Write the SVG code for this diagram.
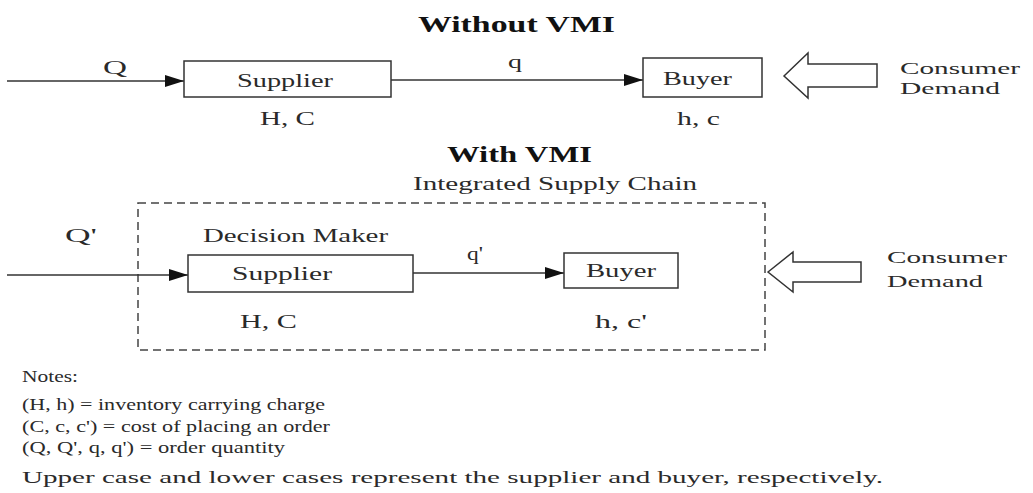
<svg xmlns="http://www.w3.org/2000/svg" width="1033" height="493" viewBox="0 0 1033 493">
<style>
text{font-family:"Liberation Serif","Times New Roman",serif;fill:#2a2a2a;font-size:19px}
.title{font-weight:bold;font-size:23px;fill:#111}
.box{fill:#fff;stroke:#333;stroke-width:1.5}
.ln{stroke:#333;stroke-width:1.5;fill:none}
.hollow{fill:#fff;stroke:#333;stroke-width:1.5}
.note{font-size:17px}
.cd{font-size:17px}
</style>
<defs>
<marker id="ah" markerUnits="userSpaceOnUse" markerWidth="20" markerHeight="12" refX="19" refY="6" orient="auto">
<path d="M0,0 L19,6 L0,12 z" fill="#111"/>
</marker>
</defs>
<rect width="1033" height="493" fill="#fff"/>
<text class="title" x="418" y="32" textLength="197" lengthAdjust="spacingAndGlyphs">Without VMI</text>
<text class="title" x="447" y="162" textLength="145" lengthAdjust="spacingAndGlyphs">With VMI</text>
<text x="413" y="190" textLength="284" lengthAdjust="spacingAndGlyphs">Integrated Supply Chain</text>
<rect id="isc" x="138" y="203" width="627" height="147" fill="none" stroke="#444" stroke-width="1.5" stroke-dasharray="8,5"/>
<g id="connectors">
<line class="ln" x1="7" y1="81" x2="184" y2="81" marker-end="url(#ah)"/>
<line class="ln" x1="391" y1="80" x2="643" y2="80" marker-end="url(#ah)"/>
<line class="ln" x1="7" y1="275" x2="188" y2="275" marker-end="url(#ah)"/>
<line class="ln" x1="413" y1="273" x2="564" y2="273" marker-end="url(#ah)"/>
<text x="103" y="74" textLength="24" lengthAdjust="spacingAndGlyphs">Q</text>
<text x="508" y="68" textLength="14" lengthAdjust="spacingAndGlyphs">q</text>
<text x="65" y="242" textLength="32" lengthAdjust="spacingAndGlyphs">Q'</text>
<text x="467" y="260" textLength="16" lengthAdjust="spacingAndGlyphs">q'</text>
</g>
<g id="supplier1">
<rect class="box" x="184" y="61" width="207" height="36"/>
<text x="237" y="87" textLength="96" lengthAdjust="spacingAndGlyphs">Supplier</text>
<text x="260" y="125" textLength="55" lengthAdjust="spacingAndGlyphs">H, C</text>
</g>
<g id="buyer1">
<rect class="box" x="643" y="58" width="119" height="39"/>
<text x="663" y="85" textLength="69" lengthAdjust="spacingAndGlyphs">Buyer</text>
<text x="677" y="125" textLength="43" lengthAdjust="spacingAndGlyphs">h, c</text>
</g>
<g id="demand1">
<path class="hollow" d="M784,76 L808,53 L808,64 L877,64 L877,87 L808,87 L808,98 Z"/>
<text class="cd" x="900" y="74" textLength="120" lengthAdjust="spacingAndGlyphs">Consumer</text>
<text class="cd" x="900" y="94" textLength="100" lengthAdjust="spacingAndGlyphs">Demand</text>
</g>
<g id="supplier2">
<text x="203" y="242" textLength="185" lengthAdjust="spacingAndGlyphs">Decision Maker</text>
<rect class="box" x="188" y="255" width="225" height="37"/>
<text x="232" y="280" textLength="100" lengthAdjust="spacingAndGlyphs">Supplier</text>
<text x="240" y="328" textLength="57" lengthAdjust="spacingAndGlyphs">H, C</text>
</g>
<g id="buyer2">
<rect class="box" x="564" y="253" width="114" height="35"/>
<text x="586" y="277" textLength="70" lengthAdjust="spacingAndGlyphs">Buyer</text>
<text x="595" y="328" textLength="52" lengthAdjust="spacingAndGlyphs">h, c'</text>
</g>
<g id="demand2">
<path class="hollow" d="M768,272 L793,252 L793,262 L861,262 L861,282 L793,282 L793,292 Z"/>
<text class="cd" x="887" y="263" textLength="120" lengthAdjust="spacingAndGlyphs">Consumer</text>
<text class="cd" x="887" y="287" textLength="96" lengthAdjust="spacingAndGlyphs">Demand</text>
</g>
<g id="notes">
<text class="note" x="22" y="382" textLength="56" lengthAdjust="spacingAndGlyphs">Notes:</text>
<text class="note" x="22" y="410" textLength="303" lengthAdjust="spacingAndGlyphs">(H, h) = inventory carrying charge</text>
<text class="note" x="22" y="432" textLength="308" lengthAdjust="spacingAndGlyphs">(C, c, c') = cost of placing an order</text>
<text class="note" x="22" y="453" textLength="263" lengthAdjust="spacingAndGlyphs">(Q, Q', q, q') = order quantity</text>
<text class="note" x="22" y="483" textLength="861" lengthAdjust="spacingAndGlyphs">Upper case and lower cases represent the supplier and buyer, respectively.</text>
</g>
</svg>
